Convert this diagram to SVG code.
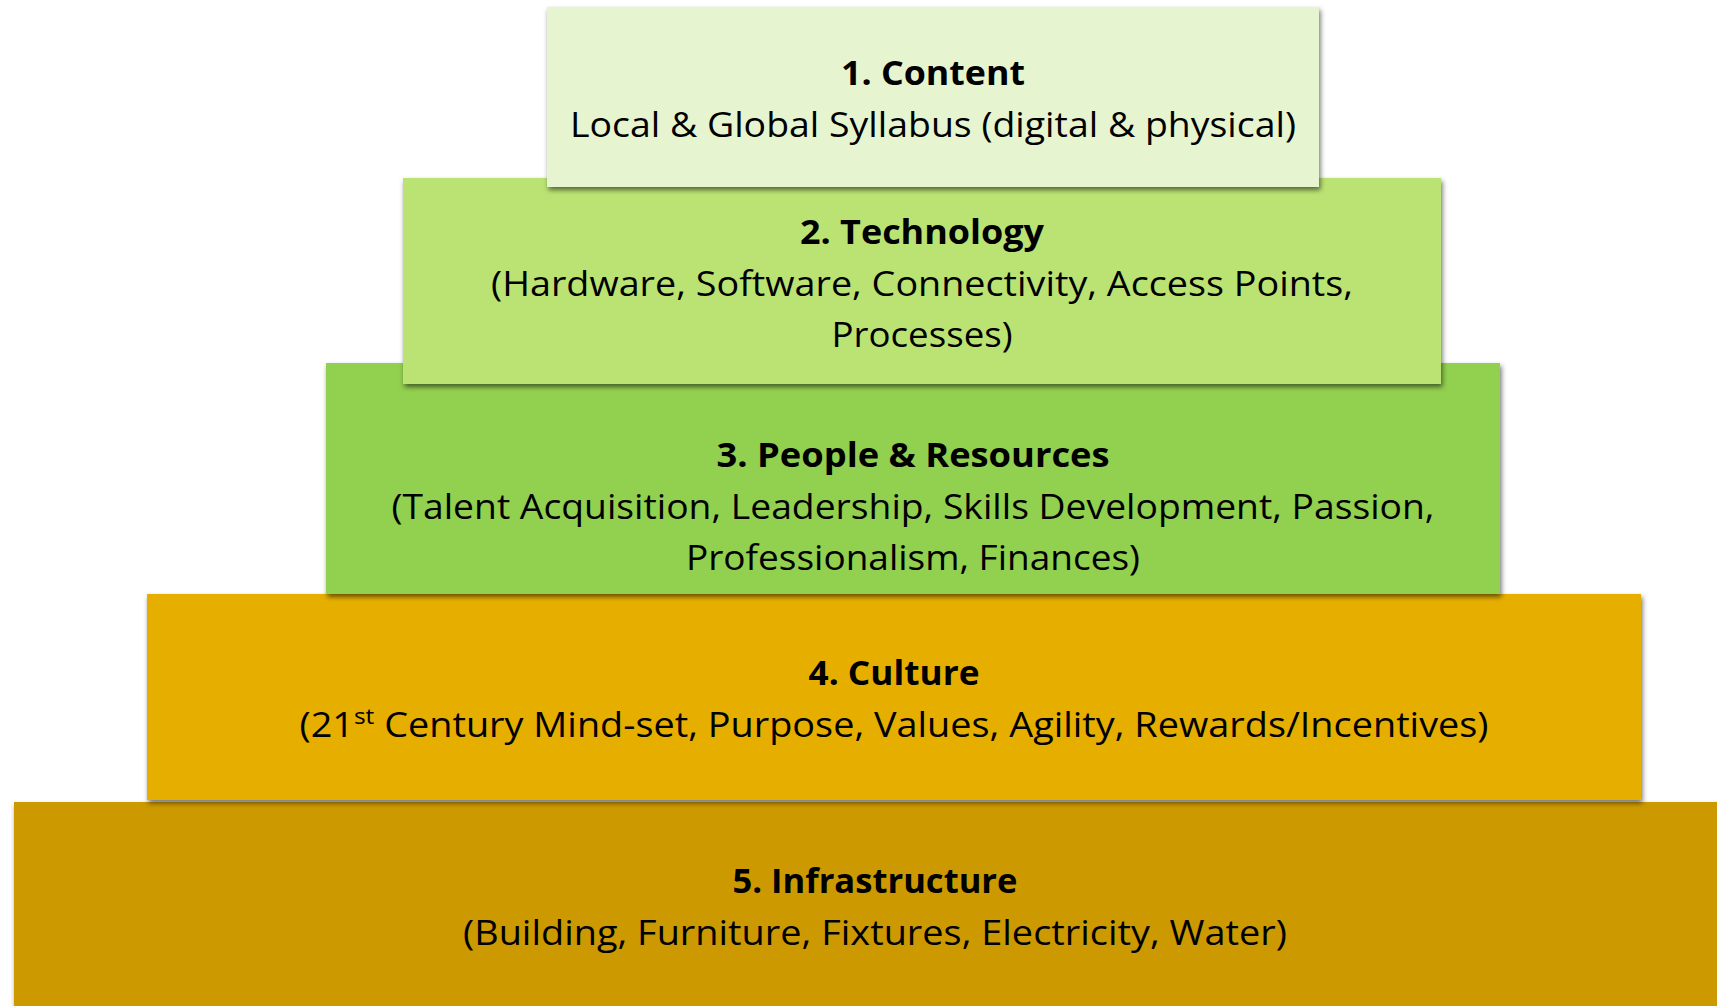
<svg xmlns="http://www.w3.org/2000/svg" width="1717" height="1006" viewBox="0 0 1717 1006">
<style>
.t{font-family:"Open Sans","Liberation Sans",Arial,sans-serif;font-size:34px;fill:#000;text-anchor:middle}
.b{font-weight:bold}
</style>
<defs>
<filter id="sh" x="-5%" y="-10%" width="110%" height="125%">
<feDropShadow dx="1.5" dy="3" stdDeviation="2.5" flood-color="#000" flood-opacity="0.55"/>
</filter>
</defs>
<rect width="1717" height="1006" fill="#fff"/>
<g id="layer5">
<rect x="14" y="802" width="1740" height="230" fill="#CC9900" filter="url(#sh)"/>
<text class="t b" x="875" y="893" textLength="285" lengthAdjust="spacingAndGlyphs">5. Infrastructure</text>
<text class="t" x="875" y="945" textLength="824" lengthAdjust="spacingAndGlyphs">(Building, Furniture, Fixtures, Electricity, Water)</text>
</g>
<g id="layer4">
<rect x="147" y="594" width="1494" height="206" fill="#E6AF00" filter="url(#sh)"/>
<text class="t b" x="894" y="685" textLength="171" lengthAdjust="spacingAndGlyphs">4. Culture</text>
<text class="t" x="894" y="737" textLength="1189" lengthAdjust="spacingAndGlyphs">(21<tspan font-size="22" dy="-13">st</tspan><tspan dy="13"> Century Mind-set, Purpose, Values, Agility, Rewards/Incentives)</tspan></text>
</g>
<g id="layer3">
<rect x="326" y="363" width="1174" height="231" fill="#92D050" filter="url(#sh)"/>
<text class="t b" x="913" y="467" textLength="393" lengthAdjust="spacingAndGlyphs">3. People &amp; Resources</text>
<text class="t" x="913" y="519" textLength="1043" lengthAdjust="spacingAndGlyphs">(Talent Acquisition, Leadership, Skills Development, Passion,</text>
<text class="t" x="913" y="570" textLength="454" lengthAdjust="spacingAndGlyphs">Professionalism, Finances)</text>
</g>
<g id="layer2">
<rect x="403" y="178" width="1038" height="206" fill="#BBE373" filter="url(#sh)"/>
<text class="t b" x="922" y="244" textLength="244" lengthAdjust="spacingAndGlyphs">2. Technology</text>
<text class="t" x="922" y="296" textLength="862" lengthAdjust="spacingAndGlyphs">(Hardware, Software, Connectivity, Access Points,</text>
<text class="t" x="922" y="347" textLength="181" lengthAdjust="spacingAndGlyphs">Processes)</text>
</g>
<g id="layer1">
<rect x="547" y="7" width="772" height="180" fill="#E6F5D0" filter="url(#sh)"/>
<text class="t b" x="933" y="85" textLength="184" lengthAdjust="spacingAndGlyphs">1. Content</text>
<text class="t" x="933" y="137" textLength="726" lengthAdjust="spacingAndGlyphs">Local &amp; Global Syllabus (digital &amp; physical)</text>
</g>
<g id="connectors"/>
</svg>
